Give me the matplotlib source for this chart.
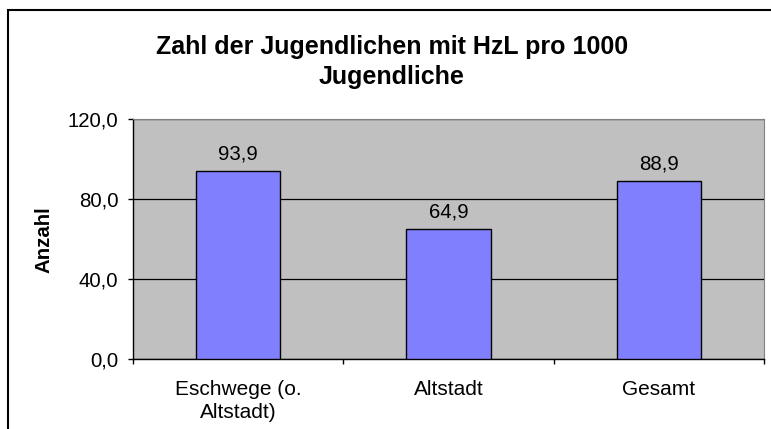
import numpy as np
import matplotlib
matplotlib.use("Agg")
import matplotlib.pyplot as plt
from matplotlib.patches import Rectangle

## Werte aus der Grafik
categories = ["Eschwege (o.\nAltstadt)", "Altstadt", "Gesamt"]
values = [93.9, 64.9, 88.9]
y_ticks = [0, 40, 80, 120]
title = "Zahl der Jugendlichen mit HzL pro 1000\nJugendliche"
y_label = "Anzahl"

plt.rcParams['font.family'] = ['Liberation Sans', 'DejaVu Sans']

W, H = 771, 429
fig = plt.figure(figsize=(W / 100, H / 100), dpi=100)

## aeusserer Rahmen wie im Excel-Diagramm (rechts/unten abgeschnitten)
fig.patches.append(Rectangle((8 / W, -0.1), 1, 1.1 - 10 / H, transform=fig.transFigure,
                             fill=False, edgecolor='black', linewidth=1.5))

ax = fig.add_axes([133 / W, (H - 359) / H, 631 / W, 240 / H])
ax.set_facecolor('#C0C0C0')

x = np.arange(len(categories))
bars = ax.bar(x, values, width=0.4, color='#8080FF', edgecolor='black',
              linewidth=1.0, zorder=3)

ax.set_xlim(-0.5, len(categories) - 0.5)
ax.set_ylim(0, 120)
ax.set_yticks(y_ticks)
ax.set_yticklabels([('%.1f' % v).replace('.', ',') for v in y_ticks], fontsize=14.7)
ax.yaxis.grid(True, color='black', linewidth=0.9, zorder=1)

ax.set_xticks(x)
ax.set_xticklabels(categories, fontsize=15, linespacing=1.3)
ax.tick_params(axis='x', length=0, pad=15)
ax.tick_params(axis='y', length=3.6, width=1, pad=7)
## Trennstriche zwischen den Kategorien
ax.set_xticks(np.arange(len(categories) + 1) - 0.5, minor=True)
ax.tick_params(axis='x', which='minor', length=3.6, width=1)

for side in ['top', 'right']:
    ax.spines[side].set_color('#808080')
for side in ['left', 'bottom']:
    ax.spines[side].set_color('black')
    ax.spines[side].set_linewidth(1.0)

for b, v in zip(bars, values):
    ax.text(b.get_x() + b.get_width() / 2, v + 4, ('%.1f' % v).replace('.', ','),
            ha='center', va='bottom', fontsize=14.7)

fig.text(43.5 / W, 1 - 240 / H, y_label, rotation=90, ha='center', va='center',
         fontsize=14.7, fontweight='bold')
fig.text(392 / W, 1 - 62 / H, title, ha='center', va='center',
         fontsize=18, fontweight='bold', linespacing=1.35)

fig.savefig('out.png', dpi=100)
